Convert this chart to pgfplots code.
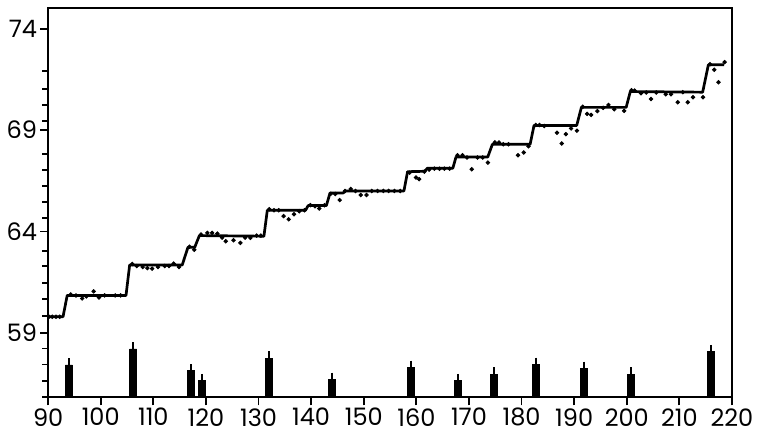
\documentclass[border=0pt]{standalone}
\usepackage{fontspec}
\setmainfont{Poppins}
\usepackage{pgfplots}
\pgfplotsset{compat=1.18}
\begin{document}
\begin{tikzpicture}
\begin{axis}[
  scale only axis,
  width=341.7pt, height=194.5pt,
  xmin=90, xmax=220, ymin=55.83, ymax=75.02,
  xtick={90,100,...,220},
  ytick={59,64,69,74},
  minor ytick={55.85,56.65,57.44,58.23,59.82,60.68,61.46,62.29,63.03,64.67,65.46,66.26,67.05,67.84,69.43,70.25,71.03,71.90},
  tick align=outside,
  major tick length=4pt, minor tick length=3pt,
  every tick/.style={black, line width=0.9pt},
  axis line style={line width=1.2pt},
  xtick pos=bottom, ytick pos=left,
  tick label style={font=\fontsize{12}{13}\selectfont},
  /pgf/number format/assume math mode=true,
  xticklabel style={yshift=2pt},
  yticklabel style={xshift=2pt},
]
% bars at the bottom
\addplot[ybar, bar width=3.5pt, fill=black, draw=black,
  error bars/.cd, y dir=plus, y fixed=0.18,
  error bar style={line width=0.9pt}, error mark options={mark size=1.6pt, line width=0.9pt}]
coordinates {
(93.93,57.42) (106.14,58.21) (117.2,57.13) (119.2,56.64) (132.05,57.75)
(144.0,56.71) (159.0,57.30) (167.9,56.64) (174.8,56.97) (182.75,57.45)
(191.8,57.25) (200.8,56.97) (216.0,58.07)
};
% step line
\addplot[black, line width=1.35pt, line join=round, mark=none] coordinates {
(90,59.8) (92.835,59.8) (93.627,60.85) (104.806,60.85) (105.499,62.35) (115.491,62.35)
(116.579,63.22) (117.866,63.22) (118.756,63.8) (131.024,63.77) (131.667,65.05)
(138.939,65.05) (139.433,65.28) (142.896,65.28) (143.589,65.9) (146.062,65.9)
(146.557,66.0) (157.637,66.0) (158.33,66.95) (161.595,66.97) (162.09,67.12)
(166.937,67.12) (167.531,67.67) (173.566,67.67) (174.456,68.3) (181.629,68.3)
(182.371,69.23) (190.484,69.23) (191.374,70.12) (199.883,70.12) (200.674,70.9)
(214.426,70.87) (215.514,72.22) (218.5,72.22)
};
% observations
\addplot[only marks, mark=*, mark size=0.9pt, black] coordinates {
(90.15,59.8) (90.8,59.8) (91.5,59.8) (92.2,59.8)
(94.3,60.9) (95.3,60.85) (96.47,60.7) (97.27,60.8) (98.67,61.05) (99.67,60.75) (100.75,60.85) (102.75,60.85) (103.77,60.85)
(106.0,62.4) (106.87,62.3) (107.97,62.25) (108.87,62.2) (109.77,62.17) (110.87,62.25) (112.17,62.3) (112.97,62.3) (113.87,62.42) (114.87,62.25)
(116.87,63.25) (117.77,63.1)
(119.07,63.85) (120.27,63.93) (121.17,63.93) (122.17,63.9) (123.07,63.7) (123.77,63.52) (125.25,63.57) (126.55,63.44) (127.45,63.7) (128.45,63.69) (129.65,63.8) (130.45,63.8)
(132.05,65.1) (132.95,65.05) (133.85,65.05) (134.75,64.76) (135.74,64.6) (136.74,64.85) (137.74,65.0) (138.74,65.05) (139.84,65.3) (140.74,65.25) (141.54,65.14) (142.54,65.3)
(143.74,65.86) (144.6,65.85) (145.43,65.55) (146.43,66.0) (147.53,66.1) (148.43,66.0) (149.43,65.8) (150.53,65.8) (151.53,66.0) (152.63,66.0) (153.73,66.0) (154.73,66.0) (155.83,66.0) (156.93,66.0)
(158.73,66.9) (159.93,66.66) (160.53,66.58) (161.53,66.95) (162.43,67.05) (163.43,67.1) (164.4,67.1) (165.32,67.1) (166.32,67.1)
(167.82,67.76) (168.77,67.76) (169.62,67.65) (170.52,67.07) (171.62,67.65) (172.62,67.65) (173.6,67.4)
(174.92,68.4) (175.72,68.39) (176.52,68.3) (177.52,68.3) (179.32,67.76) (180.42,67.9) (181.32,68.2)
(182.7,69.25) (183.4,69.25) (184.32,69.2) (186.72,68.87) (187.62,68.34) (188.42,68.8) (189.42,69.08) (190.52,68.97)
(191.62,70.15) (192.47,69.8) (193.22,69.75) (194.41,69.94) (195.51,70.1) (196.51,70.24) (197.61,70.03) (199.51,69.95)
(200.9,70.97) (201.5,70.95) (202.7,70.82) (203.7,70.85) (204.6,70.53) (205.6,70.85) (207.4,70.77) (208.4,70.77) (209.7,70.37) (210.65,70.87) (211.6,70.37) (212.6,70.62) (214.5,70.62)
(215.83,72.25) (216.63,71.97) (217.43,71.36) (218.6,72.35)
};
\end{axis}
\path ([yshift=4pt]current axis.north);
\end{tikzpicture}
\end{document}
